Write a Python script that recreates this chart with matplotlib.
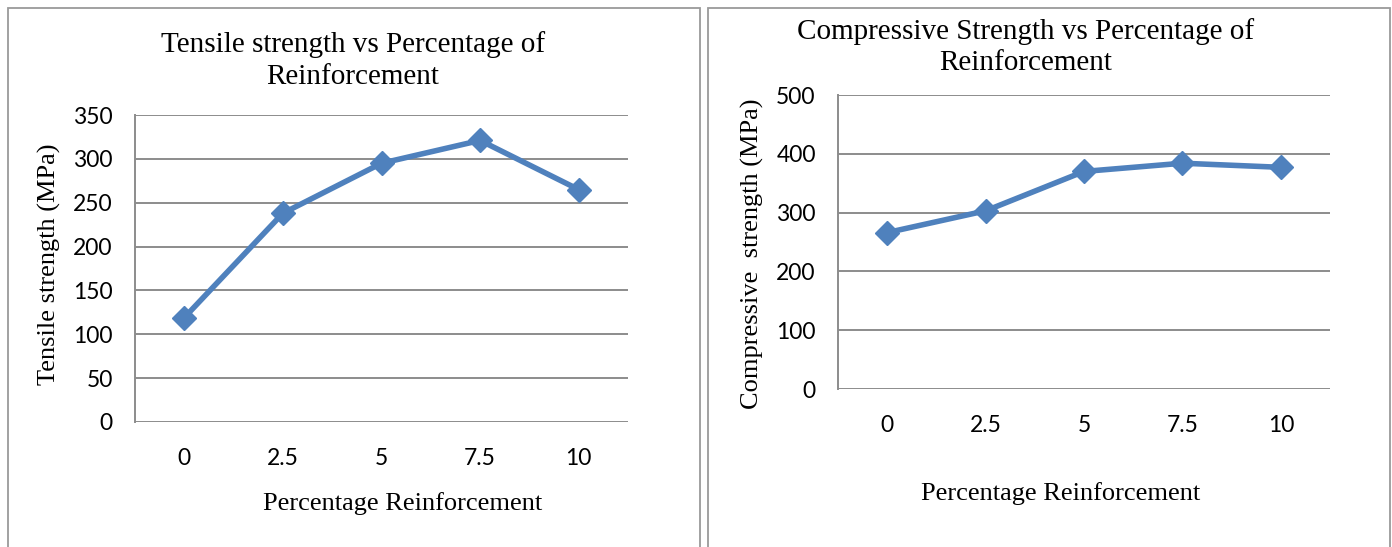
import matplotlib.pyplot as plt
from matplotlib.patches import Rectangle

# percentage of reinforcement (category labels)
reinforcement = ["0", "2.5", "5", "7.5", "10"]
tensile = [119, 238, 295, 321, 265]
compressive = [266, 303, 370, 384, 377]

W, H = 1392, 547
line_col = "#4F81BD"
grid_col = "#8C8C8C"
serif = "Liberation Serif"
tickfont = "Lato"

fig = plt.figure(figsize=(W / 100, H / 100), dpi=100)


def px_axes(x0, y0, x1, y1):
    # axes from pixel box (top-left origin)
    return fig.add_axes([x0 / W, 1 - y1 / H, (x1 - x0) / W, (y1 - y0) / H])


def panel(x0, y0, x1, y1):
    fig.patches.append(Rectangle((x0 / W, 1 - y1 / H), (x1 - x0) / W, (y1 - y0) / H,
                                 transform=fig.transFigure, fill=False,
                                 edgecolor="#9A9A9A", lw=1.3))


def draw(ax, values, ymax, step):
    xs = range(len(values))
    ax.plot(xs, values, color=line_col, lw=4, marker="D", ms=12,
            mfc=line_col, mec=line_col, solid_joinstyle="miter")
    ax.set_xlim(-0.5, len(values) - 0.5)
    ax.set_ylim(0, ymax)
    ax.set_yticks(range(0, ymax + 1, step))
    ax.set_xticks(list(xs))
    ax.set_xticklabels(reinforcement)
    ax.grid(axis="y", color=grid_col, lw=1.4)
    ax.set_axisbelow(True)
    for s in ("top", "right", "bottom"):
        ax.spines[s].set_visible(False)
    ax.spines["left"].set_color(grid_col)
    ax.spines["left"].set_linewidth(1.4)
    ax.tick_params(length=0, labelsize=16.5)
    ax.tick_params(axis="y", pad=16)
    ax.tick_params(axis="x", pad=19)
    for lab in ax.get_xticklabels() + ax.get_yticklabels():
        lab.set_fontfamily(tickfont)


panel(8, 8, 700, 560)
panel(708, 8, 1390, 560)

ax1 = px_axes(135, 115, 628, 422)
draw(ax1, tensile, 350, 50)
ax2 = px_axes(838, 95, 1330, 389)
draw(ax2, compressive, 500, 100)


def ftext(x, y, s, **kw):
    fig.text(x / W, 1 - y / H, s, family=serif, ha="center", va="center", **kw)


ftext(353, 61, "Tensile strength vs Percentage of\nReinforcement", fontsize=21,
      linespacing=1.3)
ftext(49, 264, "Tensile strength (MPa)", fontsize=19, rotation=90)
ftext(403, 504, "Percentage Reinforcement", fontsize=19)

ftext(1026, 47, "Compressive Strength vs Percentage of\nReinforcement", fontsize=21,
      linespacing=1.25)
ftext(752, 254, "Compressive  strength (MPa)", fontsize=19, rotation=90)
ftext(1061, 494, "Percentage Reinforcement", fontsize=19)

fig.savefig("out.png", dpi=100)
